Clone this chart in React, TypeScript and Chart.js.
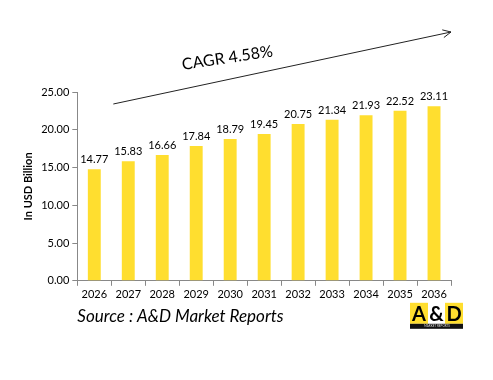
import React, { useEffect, useRef } from "react";
import { Chart, registerables } from "chart.js";

Chart.register(...registerables);

const years = ["2026", "2027", "2028", "2029", "2030", "2031", "2032", "2033", "2034", "2035", "2036"];
const values = [14.77, 15.83, 16.66, 17.84, 18.79, 19.45, 20.75, 21.34, 21.93, 22.52, 23.11];
const cagrText = "CAGR 4.58%";
const sourceText = "Source : A&D Market Reports";
const yTitle = "In USD Billion";

const FONT = "Lato, 'Open Sans', sans-serif";
const YELLOW = "#FFDE2F";

const extrasPlugin = {
  id: "extras",
  afterDatasetsDraw(chart: any) {
    const ctx = chart.ctx;
    const meta = chart.getDatasetMeta(0);
    ctx.save();
    // data labels
    ctx.font = `11px ${FONT}`;
    ctx.fillStyle = "#000";
    ctx.textAlign = "center";
    ctx.textBaseline = "bottom";
    meta.data.forEach((bar: any, i: number) => {
      ctx.fillText(values[i].toFixed(2), bar.x, bar.y - 4);
    });
    const area = chart.chartArea;
    // arrow
    const x0 = area.left + 36, y0 = area.top + 12;
    const x1 = area.right, y1 = area.top - 60;
    ctx.strokeStyle = "#222";
    ctx.lineWidth = 1;
    ctx.beginPath();
    ctx.moveTo(x0, y0);
    ctx.lineTo(x1, y1);
    const ang = Math.atan2(y1 - y0, x1 - x0);
    const hl = 9;
    ctx.moveTo(x1 - hl * Math.cos(ang - 0.45), y1 - hl * Math.sin(ang - 0.45));
    ctx.lineTo(x1, y1);
    ctx.lineTo(x1 - hl * Math.cos(ang + 0.45), y1 - hl * Math.sin(ang + 0.45));
    ctx.stroke();
    // CAGR text
    ctx.save();
    ctx.translate(area.left + 150, area.top - 34);
    ctx.rotate(-0.15);
    ctx.font = `16px ${FONT}`;
    ctx.textAlign = "center";
    ctx.textBaseline = "middle";
    ctx.fillText(cagrText, 0, 0);
    ctx.restore();
    // source text
    ctx.font = `italic 17px ${FONT}`;
    ctx.textAlign = "left";
    ctx.textBaseline = "middle";
    ctx.fillStyle = "#000";
    ctx.fillText(sourceText, area.left, area.bottom + 36);
    // logo
    const lx = area.right - 41, ly = area.bottom + 22;
    const bw = 18, bh = 21;
    ctx.fillStyle = YELLOW;
    ctx.fillRect(lx, ly, bw, bh);
    ctx.fillStyle = "#fff";
    ctx.fillRect(lx + bw, ly, bw - 1, bh);
    ctx.fillStyle = YELLOW;
    ctx.fillRect(lx + 2 * bw - 1, ly, bw, bh);
    ctx.fillStyle = "#111";
    ctx.fillRect(lx, ly + bh, 3 * bw - 1, 5);
    ctx.font = `bold 20px ${FONT}`;
    ctx.textAlign = "center";
    ctx.textBaseline = "middle";
    ctx.fillStyle = "#000";
    ctx.fillText("A", lx + bw / 2, ly + bh / 2 + 1);
    ctx.fillText("&", lx + bw * 1.5 - 0.5, ly + bh / 2 + 1);
    ctx.fillText("D", lx + bw * 2.5 - 1, ly + bh / 2 + 1);
    ctx.font = `3px ${FONT}`;
    ctx.fillStyle = "#ddd";
    ctx.fillText("MARKET REPORTS", lx + bw * 1.5, ly + bh + 2.5);
    ctx.restore();
  },
};

export default function App() {
  const ref = useRef<HTMLCanvasElement>(null);
  useEffect(() => {
    if (!ref.current) return;
    const chart = new Chart(ref.current, {
      type: "bar",
      data: {
        labels: years,
        datasets: [
          {
            data: values,
            backgroundColor: YELLOW,
            barPercentage: 0.38,
            categoryPercentage: 1,
          },
        ],
      },
      options: {
        animation: false,
        responsive: false,
        maintainAspectRatio: false,
        layout: { padding: { top: 92, right: 42, bottom: 77, left: 22 } },
        plugins: { legend: { display: false }, tooltip: { enabled: false } },
        scales: {
          x: {
            grid: {
              display: true,
              drawOnChartArea: false,
              drawTicks: true,
              tickLength: 5,
              offset: true,
              color: "#888",
            },
            border: { color: "#888" },
            ticks: { font: { family: FONT, size: 11 }, color: "#000", padding: 2, maxRotation: 0 },
          },
          y: {
            min: 0,
            max: 25,
            grid: { display: true, drawOnChartArea: false, drawTicks: true, tickLength: 5, color: "#888" },
            border: { color: "#888" },
            ticks: {
              stepSize: 5,
              font: { family: FONT, size: 11 },
              color: "#000",
              padding: 3,
              callback: (v: any) => Number(v).toFixed(2),
            },
            title: {
              display: true,
              text: yTitle,
              font: { family: FONT, size: 11, weight: "bold" },
              color: "#000",
              padding: { top: 0, bottom: 3 },
            },
          },
        },
      },
      plugins: [extrasPlugin],
    });
    return () => chart.destroy();
  }, []);
  return (
    <div style={{ position: "fixed", left: 0, top: 0, width: 493, height: 380, background: "#fff" }}>
      <canvas ref={ref} width={493} height={380} style={{ width: 493, height: 380 }} />
    </div>
  );
}
